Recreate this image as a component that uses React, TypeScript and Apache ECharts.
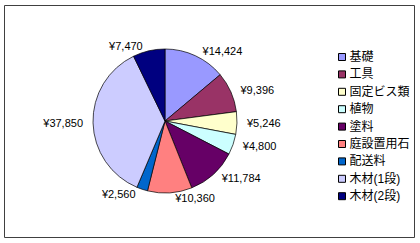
import React, { useEffect, useRef } from "react";
import * as echarts from "echarts";

const categories = ["基礎", "工具", "固定ビス類", "植物", "塗料", "庭設置用石", "配送料", "木材(1段)", "木材(2段)"];
const values = [14424, 9396, 5246, 4800, 11784, 10360, 2560, 37850, 7470];
const colors = ["#9999FF", "#993366", "#FFFFCC", "#CCFFFF", "#660066", "#FF8080", "#0066CC", "#CCCCFF", "#000080"];

const FONT = "'Liberation Sans', 'Noto Sans CJK JP', sans-serif";

export default function App() {
  const ref = useRef<HTMLDivElement>(null);
  useEffect(() => {
    document.body.style.margin = "0";
    const chart = echarts.init(ref.current!, null, { renderer: "svg" });
    chart.setOption({
      animation: false,
      backgroundColor: "#fff",
      graphic: [
        {
          type: "rect",
          shape: { x: 4.5, y: 5.5, width: 410, height: 232 },
          style: { fill: "none", stroke: "#404040", lineWidth: 1 },
          silent: true,
        },
      ],
      legend: {
        orient: "vertical",
        left: 333,
        top: 46,
        icon: "rect",
        itemWidth: 7,
        itemHeight: 7,
        itemGap: 5.4,
        data: categories,
        textStyle: { fontSize: 12, color: "#000", fontFamily: FONT, padding: [0, 0, 0, -1] },
        itemStyle: { borderColor: "#000", borderWidth: 1 },
      },
      series: [
        {
          type: "pie",
          center: [165, 121],
          radius: 72,
          startAngle: 90,
          clockwise: true,
          data: categories.map((c, i) => ({ name: c, value: values[i], itemStyle: { color: colors[i] } })),
          itemStyle: { borderColor: "#000", borderWidth: 0.7 },
          label: {
            show: true,
            position: "outside",
            fontSize: 11,
            color: "#000",
            fontFamily: FONT,
            formatter: (p: any) => "¥" + Number(p.value).toLocaleString("en-US"),
          },
          labelLine: { show: false, length: 5, length2: 0 },
          emphasis: { disabled: true },
        },
      ],
    });
    return () => chart.dispose();
  }, []);
  return <div ref={ref} style={{ position: "absolute", left: 0, top: 0, width: 420, height: 243 }} />;
}
